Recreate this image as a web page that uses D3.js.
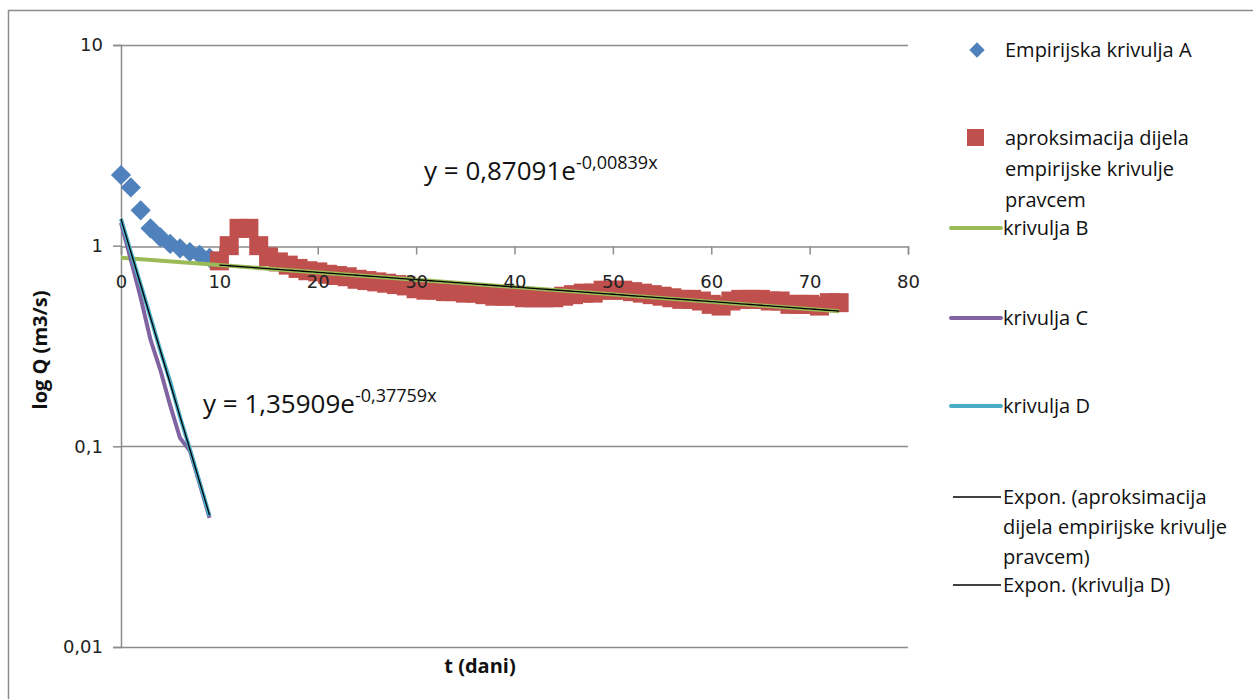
<!DOCTYPE html>
<html>
<head>
<meta charset="utf-8">
<script src="https://cdn.jsdelivr.net/npm/d3@7"></script>
<style>
  body { margin: 0; background: #fff; }
  svg { display: block; }
</style>
</head>
<body>
<div id="chart"></div>
<script>
// days for each series
const daysA = [0, 1, 2, 3, 4, 5, 6, 7, 8, 9];
const krivuljaA = [2.25, 1.95, 1.5, 1.22, 1.1, 1.02, 0.97, 0.93, 0.9, 0.87];

const daysRed = d3.range(10, 74);
const aproksimacija = [
    0.84, 1.0, 1.22, 1.22, 1.0, 0.88, 0.83, 0.8, 0.77, 0.75,
    0.74, 0.72, 0.71, 0.7, 0.68, 0.67, 0.66, 0.65, 0.64, 0.63,
    0.61, 0.6, 0.6, 0.59, 0.59, 0.58, 0.58, 0.57, 0.56, 0.56,
    0.56, 0.55, 0.55, 0.55, 0.55, 0.56, 0.57, 0.58, 0.58, 0.6,
    0.6, 0.6, 0.59, 0.58, 0.57, 0.56, 0.55, 0.54, 0.54, 0.53,
    0.51, 0.5, 0.53, 0.54, 0.54, 0.54, 0.53, 0.53, 0.51, 0.51,
    0.51, 0.5, 0.52, 0.52
];

const daysB = [0, 73];
const krivuljaB = [0.871, 0.471];

const daysCD = [0, 1, 2, 3, 4, 5, 6, 7, 8, 9];
const krivuljaC = [1.3, 0.85, 0.55, 0.34, 0.24, 0.16, 0.11, 0.095, 0.065, 0.044];
const krivuljaD = [1.36, 0.93, 0.64, 0.44, 0.3, 0.21, 0.14, 0.097, 0.066, 0.045];

// fitted exponential trendlines y = a * e^(b x)
const trendA = [0.87091, 1.35909];
const trendB = [-0.00839, -0.37759];
const trendFrom = [10, 0];
const trendTo = [73, 9];
const trendLabels = ["0,87091", "1,35909"];
const trendExps = ["-0,00839x", "-0,37759x"];

const xTicks = [0, 10, 20, 30, 40, 50, 60, 70, 80];
const yTicks = [0.01, 0.1, 1, 10];
const yTickLabels = ["0,01", "0,1", "1", "10"];

const W = 1253, H = 699;
const colors = { A: "#4F81BD", red: "#C0504D", B: "#9BBB59", C: "#8064A2", D: "#4BACC6" };
const grid = "#8c8c8c";
const font = "'Open Sans', sans-serif";
const tickFont = "'DejaVu Sans', sans-serif";

const svg = d3.select("#chart").append("svg")
    .attr("width", W)
    .attr("height", H);

// outer chart frame
svg.append("rect")
    .attr("x", 8.5).attr("y", 10.5)
    .attr("width", 1270).attr("height", 720)
    .attr("fill", "white")
    .attr("stroke", "#8c8c8c")
    .attr("stroke-width", 1.5);

const x = d3.scaleLinear().domain([0, 80]).range([121, 908]);
const y = d3.scaleLog().domain([0.01, 10]).range([647, 45]);
const axisY = Math.round(y(1)) + 0.5;

// horizontal gridlines
svg.append("g")
    .selectAll("line")
    .data(yTicks.filter(d => d !== 1))
    .enter().append("line")
    .attr("x1", x(0)).attr("x2", x(80))
    .attr("y1", d => Math.round(y(d)) + 0.5)
    .attr("y2", d => Math.round(y(d)) + 0.5)
    .attr("stroke", grid)
    .attr("stroke-width", 1.5);

// y axis (ticks on the left)
const yAxis = svg.append("g")
    .attr("transform", `translate(${x(0)},0)`)
    .call(d3.axisLeft(y).tickValues(yTicks).tickSize(8).tickPadding(10)
        .tickFormat((d, i) => yTickLabels[i]));
yAxis.select(".domain").attr("stroke", grid).attr("stroke-width", 1.5);
yAxis.selectAll(".tick line").attr("stroke", grid).attr("stroke-width", 1.5);
yAxis.selectAll(".tick text")
    .attr("fill", "#222")
    .style("font-family", tickFont)
    .style("font-size", "18px");

// x axis crosses at y = 1 (line and ticks only, labels drawn later on top)
const xAxis = svg.append("g")
    .attr("transform", `translate(0,${axisY})`)
    .call(d3.axisBottom(x).tickValues(xTicks).tickSize(8).tickFormat(""));
xAxis.select(".domain").attr("stroke", grid).attr("stroke-width", 1.5);
xAxis.selectAll(".tick line").attr("stroke", grid).attr("stroke-width", 1.5);

// series A - diamonds
svg.append("g")
    .selectAll("path")
    .data(daysA)
    .enter().append("path")
    .attr("transform", (d, i) => `translate(${x(d)},${y(krivuljaA[i])})`)
    .attr("d", d3.symbol(d3.symbolDiamond2, 260))
    .attr("fill", colors.A);

// red squares
svg.append("g")
    .selectAll("rect")
    .data(daysRed)
    .enter().append("rect")
    .attr("x", d => x(d) - 9.5)
    .attr("y", (d, i) => y(aproksimacija[i]) - 9.5)
    .attr("width", 19).attr("height", 19)
    .attr("fill", colors.red);

const line = d3.line().x(d => x(d[0])).y(d => y(d[1]));

svg.append("path")
    .datum(daysB.map((d, i) => [d, krivuljaB[i]]))
    .attr("fill", "none").attr("stroke", colors.B).attr("stroke-width", 4)
    .attr("d", line);

svg.append("path")
    .datum(daysCD.map((d, i) => [d, krivuljaC[i]]))
    .attr("fill", "none").attr("stroke", colors.C).attr("stroke-width", 4)
    .attr("stroke-linejoin", "round")
    .attr("d", line);

svg.append("path")
    .datum(daysCD.map((d, i) => [d, krivuljaD[i]]))
    .attr("fill", "none").attr("stroke", colors.D).attr("stroke-width", 4)
    .attr("d", line);

// trendlines
trendA.forEach((a, k) => {
    const pts = d3.range(trendFrom[k], trendTo[k] + 0.01, 0.5).map(t => [t, a * Math.exp(trendB[k] * t)]);
    svg.append("path")
        .datum(pts)
        .attr("fill", "none").attr("stroke", "black").attr("stroke-width", 1.3)
        .attr("d", line);
});

// x tick labels on top of the data
const xLabels = svg.append("g")
    .attr("transform", `translate(0,${axisY})`)
    .call(d3.axisBottom(x).tickValues(xTicks).tickSize(0).tickPadding(29));
xLabels.select(".domain").remove();
xLabels.selectAll(".tick text")
    .attr("fill", "#222")
    .style("font-family", tickFont)
    .style("font-size", "18px");

// trendline equations
const eqPos = [[424, 180], [203, 413]];
trendLabels.forEach((lab, k) => {
    const t = svg.append("text")
        .attr("x", eqPos[k][0]).attr("y", eqPos[k][1])
        .attr("fill", "#111")
        .style("font-family", font)
        .style("font-size", "26px");
    t.append("tspan").text("y = " + lab + "e");
    t.append("tspan").attr("dy", -11).style("font-size", "18px").text(trendExps[k]);
});

// axis titles
svg.append("text")
    .attr("x", 480).attr("y", 673)
    .attr("text-anchor", "middle")
    .attr("fill", "#111")
    .style("font-family", font)
    .style("font-size", "20px")
    .style("font-weight", "bold")
    .text("t (dani)");

svg.append("text")
    .attr("transform", "translate(47,350) rotate(-90)")
    .attr("text-anchor", "middle")
    .attr("fill", "#111")
    .style("font-family", font)
    .style("font-size", "20px")
    .style("font-weight", "bold")
    .text("log Q (m3/s)");

// legend
const legend = svg.append("g")
    .style("font-family", font)
    .style("font-size", "20px")
    .attr("fill", "#111");

legend.append("path")
    .attr("transform", "translate(977,50)")
    .attr("d", d3.symbol(d3.symbolDiamond2, 150))
    .attr("fill", colors.A);
legend.append("text").attr("x", 1005).attr("y", 57).text("Empirijska krivulja A");

legend.append("rect")
    .attr("x", 967).attr("y", 129).attr("width", 17).attr("height", 17)
    .attr("fill", colors.red);
["aproksimacija dijela", "empirijske krivulje", "pravcem"].forEach((s, i) => {
    legend.append("text").attr("x", 1005).attr("y", 145 + i * 31).text(s);
});

const legendLines = [
    { y: 228, color: colors.B, w: 4, text: ["krivulja B"] },
    { y: 318, color: colors.C, w: 4, text: ["krivulja C"] },
    { y: 406, color: colors.D, w: 4, text: ["krivulja D"] },
    { y: 497, color: "black", w: 1.3, text: ["Expon. (aproksimacija", "dijela empirijske krivulje", "pravcem)"] },
    { y: 585, color: "black", w: 1.3, text: ["Expon. (krivulja D)"] }
];
legendLines.forEach(d => {
    legend.append("line")
        .attr("x1", d.w > 2 ? 951 : 953).attr("x2", 1001)
        .attr("y1", d.y).attr("y2", d.y)
        .attr("stroke", d.color).attr("stroke-width", d.w)
        .attr("stroke-linecap", d.w > 2 ? "round" : "butt");
    d.text.forEach((s, i) => {
        legend.append("text").attr("x", 1003).attr("y", d.y + 7 + i * 30).text(s);
    });
});
</script>
</body>
</html>
